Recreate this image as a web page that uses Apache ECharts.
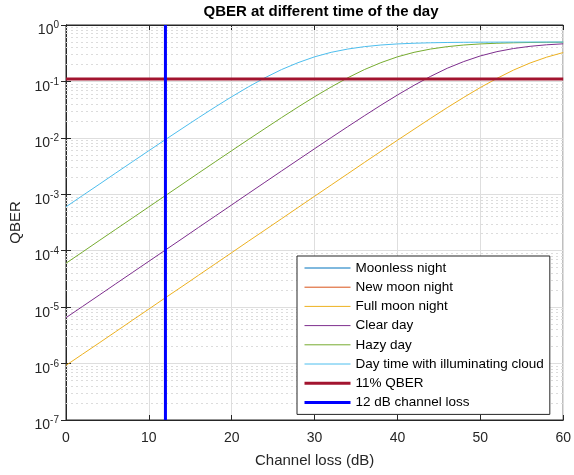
<!DOCTYPE html>
<html>
<head>
<meta charset="utf-8">
<script src="https://cdn.jsdelivr.net/npm/echarts@6/dist/echarts.min.js"></script>
<style>
  html, body { margin: 0; padding: 0; background: #fff; }
  #chart { width: 574px; height: 475px; }
</style>
</head>
<body>
<div id="chart"></div>
<script>
// QBER vs channel loss, every 2 dB

const lossDb = [0, 2, 4, 6, 8, 10, 12, 14, 16, 18, 20, 22, 24, 26, 28, 30,
    32, 34, 36, 38, 40, 42, 44, 46, 48, 50, 52, 54, 56, 58, 60];

const moonlessNight = [];   // not visible in the plot
const newMoonNight = [];    // not visible in the plot
const fullMoonNight = [9.3e-7, 1.47e-6, 2.32e-6, 3.68e-6, 5.84e-6, 9.25e-6, 1.47e-5, 2.32e-5,
    3.68e-5, 5.84e-5, 9.25e-5, 1.47e-4, 2.32e-4, 3.68e-4, 5.83e-4, 9.23e-4,
    1.46e-3, 2.31e-3, 3.66e-3, 5.77e-3, 9.08e-3, 0.0142, 0.0222, 0.0343,
    0.0522, 0.0781, 0.113, 0.159, 0.212, 0.269, 0.325];
const clearDay = [6.5e-6, 1.03e-5, 1.63e-5, 2.59e-5, 4.1e-5, 6.5e-5, 1.03e-4, 1.63e-4,
    2.59e-4, 4.1e-4, 6.49e-4, 1.03e-3, 1.63e-3, 2.58e-3, 4.07e-3, 6.42e-3,
    0.0101, 0.0158, 0.0246, 0.0379, 0.0575, 0.0854, 0.123, 0.171,
    0.225, 0.283, 0.337, 0.383, 0.419, 0.446, 0.464];
const hazyDay = [6.0e-5, 9.5e-5, 1.51e-4, 2.39e-4, 3.78e-4, 5.99e-4, 9.49e-4, 1.5e-3,
    2.38e-3, 3.76e-3, 5.93e-3, 9.33e-3, 0.0146, 0.0228, 0.0352, 0.0536,
    0.0799, 0.116, 0.162, 0.215, 0.273, 0.328, 0.375, 0.413,
    0.442, 0.462, 0.475, 0.484, 0.490, 0.494, 0.496];
const dayCloud = [6.0e-4, 9.5e-4, 1.5e-3, 2.38e-3, 3.76e-3, 5.93e-3, 9.33e-3, 0.0146,
    0.0228, 0.0352, 0.0536, 0.0799, 0.116, 0.162, 0.215, 0.273,
    0.328, 0.375, 0.413, 0.442, 0.462, 0.475, 0.484, 0.490,
    0.494, 0.496, 0.497, 0.498, 0.499, 0.499, 0.4996];

const qberLimit = 0.11;
const lossMark = 12;

const seriesNames = ['Moonless night', 'New moon night', 'Full moon night', 'Clear day',
    'Hazy day', 'Day time with illuminating cloud', '11% QBER', '12 dB channel loss'];

function pairs(ys) {
    return ys.map((v, i) => [lossDb[i], v]);
}

// minor log grid lines 2..9 of each decade
const minorLines = [];
for (let d = -7; d < 0; d++) {
    for (let m = 2; m <= 9; m++) {
        const v = m * Math.pow(10, d);
        minorLines.push([{ coord: [0, v] }, { coord: [60, v] }]);
    }
}

const chart = echarts.init(document.getElementById('chart'));

const axisColor = '#262626';
const font = 'Liberation Sans, Arial, sans-serif';

function curve(name, data, color) {
    return {
        name: name,
        type: 'line',
        data: pairs(data),
        symbol: 'none',
        color: color,
        lineStyle: { width: 1, color: color },
        z: 3
    };
}

const option = {
    animation: false,
    backgroundColor: '#fff',
    title: {
        text: 'QBER at different time of the day',
        left: 316,
        textAlign: 'center',
        top: -1,
        textStyle: { fontFamily: font, fontSize: 15, fontWeight: 'bold', color: '#000' }
    },
    grid: {
        left: 66, right: 8, top: 25, bottom: 55,
        show: true, borderColor: axisColor, borderWidth: 1, backgroundColor: '#fff'
    },
    legend: {
        orient: 'vertical',
        left: 297,
        top: 256,
        z: 10,
        padding: [5, 6, 5, 6],
        itemWidth: 46,
        itemHeight: 14,
        itemGap: 5.2,
        backgroundColor: '#fff',
        borderColor: axisColor,
        borderWidth: 1,
        borderRadius: 0,
        itemStyle: { opacity: 0 },
        textStyle: { fontFamily: font, fontSize: 13.5, color: '#000', lineHeight: 14 },
        data: seriesNames.map((n, i) => ({
            name: n,
            lineStyle: { width: i < 6 ? 1 : 3 }
        }))
    },
    xAxis: [{
        type: 'value',
        min: 0, max: 60, interval: 10,
        name: 'Channel loss (dB)',
        nameLocation: 'middle',
        nameGap: 33,
        nameTextStyle: { fontFamily: font, fontSize: 15, color: axisColor },
        axisLine: { lineStyle: { color: axisColor } },
        axisTick: { inside: true, length: 5, lineStyle: { color: axisColor } },
        axisLabel: { fontFamily: font, fontSize: 14, color: axisColor, margin: 11 },
        splitLine: { show: true, lineStyle: { color: '#dedede', width: 1 } }
    }, {
        type: 'value',
        position: 'top',
        min: 0, max: 60, interval: 10,
        axisLine: { lineStyle: { color: axisColor } },
        axisTick: { inside: true, length: 5, lineStyle: { color: axisColor } },
        axisLabel: { show: false },
        splitLine: { show: false }
    }],
    yAxis: [{
        type: 'log',
        logBase: 10,
        min: 1e-7, max: 1,
        splitNumber: 7,
        name: 'QBER',
        nameLocation: 'middle',
        nameGap: 43,
        nameTextStyle: { fontFamily: font, fontSize: 15, color: axisColor },
        axisLine: { lineStyle: { color: axisColor } },
        axisTick: { inside: true, length: 5, lineStyle: { color: axisColor } },
        axisLabel: {
            margin: 7,
            padding: [8, 0, 0, 0],
            formatter: function (v) {
                const e = Math.round(Math.log10(v));
                return '{b|10}{s|' + e + '}';
            },
            rich: {
                b: { fontFamily: font, fontSize: 14, color: axisColor, lineHeight: 17, verticalAlign: 'bottom' },
                s: { fontFamily: font, fontSize: 10, color: axisColor, lineHeight: 17, verticalAlign: 'top' }
            }
        },
        splitLine: { show: true, lineStyle: { color: '#dedede', width: 1 } }
    }, {
        type: 'log',
        logBase: 10,
        min: 1e-7, max: 1,
        splitNumber: 7,
        position: 'right',
        axisLine: { lineStyle: { color: axisColor } },
        axisTick: { inside: true, length: 5, lineStyle: { color: axisColor } },
        axisLabel: { show: false },
        splitLine: { show: false }
    }],
    series: [
        {
            name: 'minor-grid',
            type: 'line',
            data: [[0, 1e-7]],
            symbol: 'none',
            lineStyle: { opacity: 0 },
            silent: true,
            z: 1,
            markLine: {
                silent: true,
                z: 1,
                symbol: 'none',
                label: { show: false },
                lineStyle: { color: '#dcdcdc', type: [2, 3], width: 1 },
                data: minorLines
            }
        },
        curve(seriesNames[0], moonlessNight, '#0072BD'),
        curve(seriesNames[1], newMoonNight, '#D95319'),
        curve(seriesNames[2], fullMoonNight, '#EDB120'),
        curve(seriesNames[3], clearDay, '#7E2F8E'),
        curve(seriesNames[4], hazyDay, '#77AC30'),
        curve(seriesNames[5], dayCloud, '#4DBEEE'),
        {
            name: seriesNames[6],
            type: 'line',
            data: [[0, qberLimit], [60, qberLimit]],
            symbol: 'none',
            color: '#A2142F',
            lineStyle: { width: 3, color: '#A2142F' },
            z: 4
        },
        {
            name: seriesNames[7],
            type: 'line',
            data: [[lossMark, 1e-7], [lossMark, 1]],
            symbol: 'none',
            color: '#0000FF',
            lineStyle: { width: 3, color: '#0000FF' },
            z: 5
        }
    ]
};

chart.setOption(option);
</script>
</body>
</html>
